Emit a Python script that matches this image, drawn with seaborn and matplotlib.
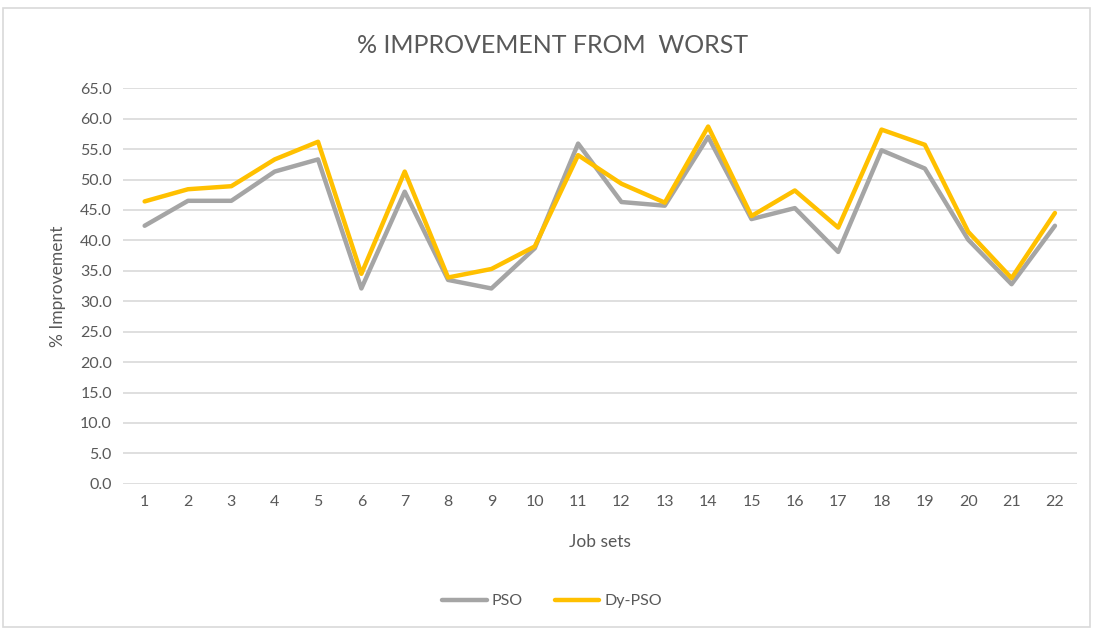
import numpy as np
import pandas as pd
import matplotlib
matplotlib.use("Agg")
import matplotlib.pyplot as plt
import seaborn as sns
from matplotlib.patches import Rectangle

# Data
job_sets = list(range(1, 23))
pso = [42.4, 46.5, 46.5, 51.3, 53.3, 32.1, 48.0, 33.5, 32.1, 38.7, 55.9,
       46.3, 45.7, 57.0, 43.5, 45.3, 38.1, 54.8, 51.8, 40.1, 32.8, 42.4]
dy_pso = [46.4, 48.4, 48.9, 53.3, 56.2, 34.5, 51.3, 33.9, 35.3, 39.0, 54.0,
          49.3, 46.2, 58.7, 44.0, 48.2, 42.1, 58.2, 55.7, 41.4, 33.8, 44.5]
y_ticks = np.arange(0, 65.1, 5)

df = pd.DataFrame({
    "Job sets": job_sets * 2,
    "value": pso + dy_pso,
    "series": ["PSO"] * len(pso) + ["Dy-PSO"] * len(dy_pso),
})

sns.set_theme(style="white")
plt.rcParams["font.family"] = ["Lato", "DejaVu Sans"]
text_col = "#595959"

fig = plt.figure(figsize=(10.93, 6.30), dpi=100)
ax = fig.add_axes([0.1125, 0.232, 0.8725, 0.628])

sns.lineplot(data=df, x="Job sets", y="value", hue="series",
             palette={"PSO": "#A5A5A5", "Dy-PSO": "#FFC000"},
             linewidth=3.2, ax=ax, legend=False, sort=False)

ax.set_xlim(0.5, 22.5)
ax.set_ylim(0, 65)
ax.set_xticks(job_sets)
ax.set_yticks(y_ticks)
ax.set_yticklabels([f"{v:.1f}" for v in y_ticks])
ax.tick_params(axis="both", length=0, labelsize=11.5, colors=text_col, pad=8)
ax.grid(axis="y", color="#D9D9D9", linewidth=1.2)
ax.set_axisbelow(True)
for s in ax.spines.values():
    s.set_visible(False)

ax.set_xlabel("Job sets", fontsize=12.5, color=text_col, labelpad=18)
ax.set_ylabel("% Improvement", fontsize=12.5, color=text_col, labelpad=10)

fig.text(0.506, 0.928, "% IMPROVEMENT FROM  WORST", ha="center", va="center",
         fontsize=18, color=text_col)

handles = [plt.Line2D([], [], color="#A5A5A5", lw=3.2),
           plt.Line2D([], [], color="#FFC000", lw=3.2)]
fig.legend(handles, ["PSO", "Dy-PSO"], loc="center", bbox_to_anchor=(0.505, 0.046),
           ncol=2, frameon=False, fontsize=11.5, labelcolor=text_col,
           handlelength=2.8, handletextpad=0.3, columnspacing=2.0)

# light frame around the chart like the original
fig.patches.append(Rectangle((0.003, 0.004), 0.994, 0.984, transform=fig.transFigure,
                             fill=False, edgecolor="#D9D9D9", linewidth=1.2))

fig.savefig("out.png", dpi=100)
